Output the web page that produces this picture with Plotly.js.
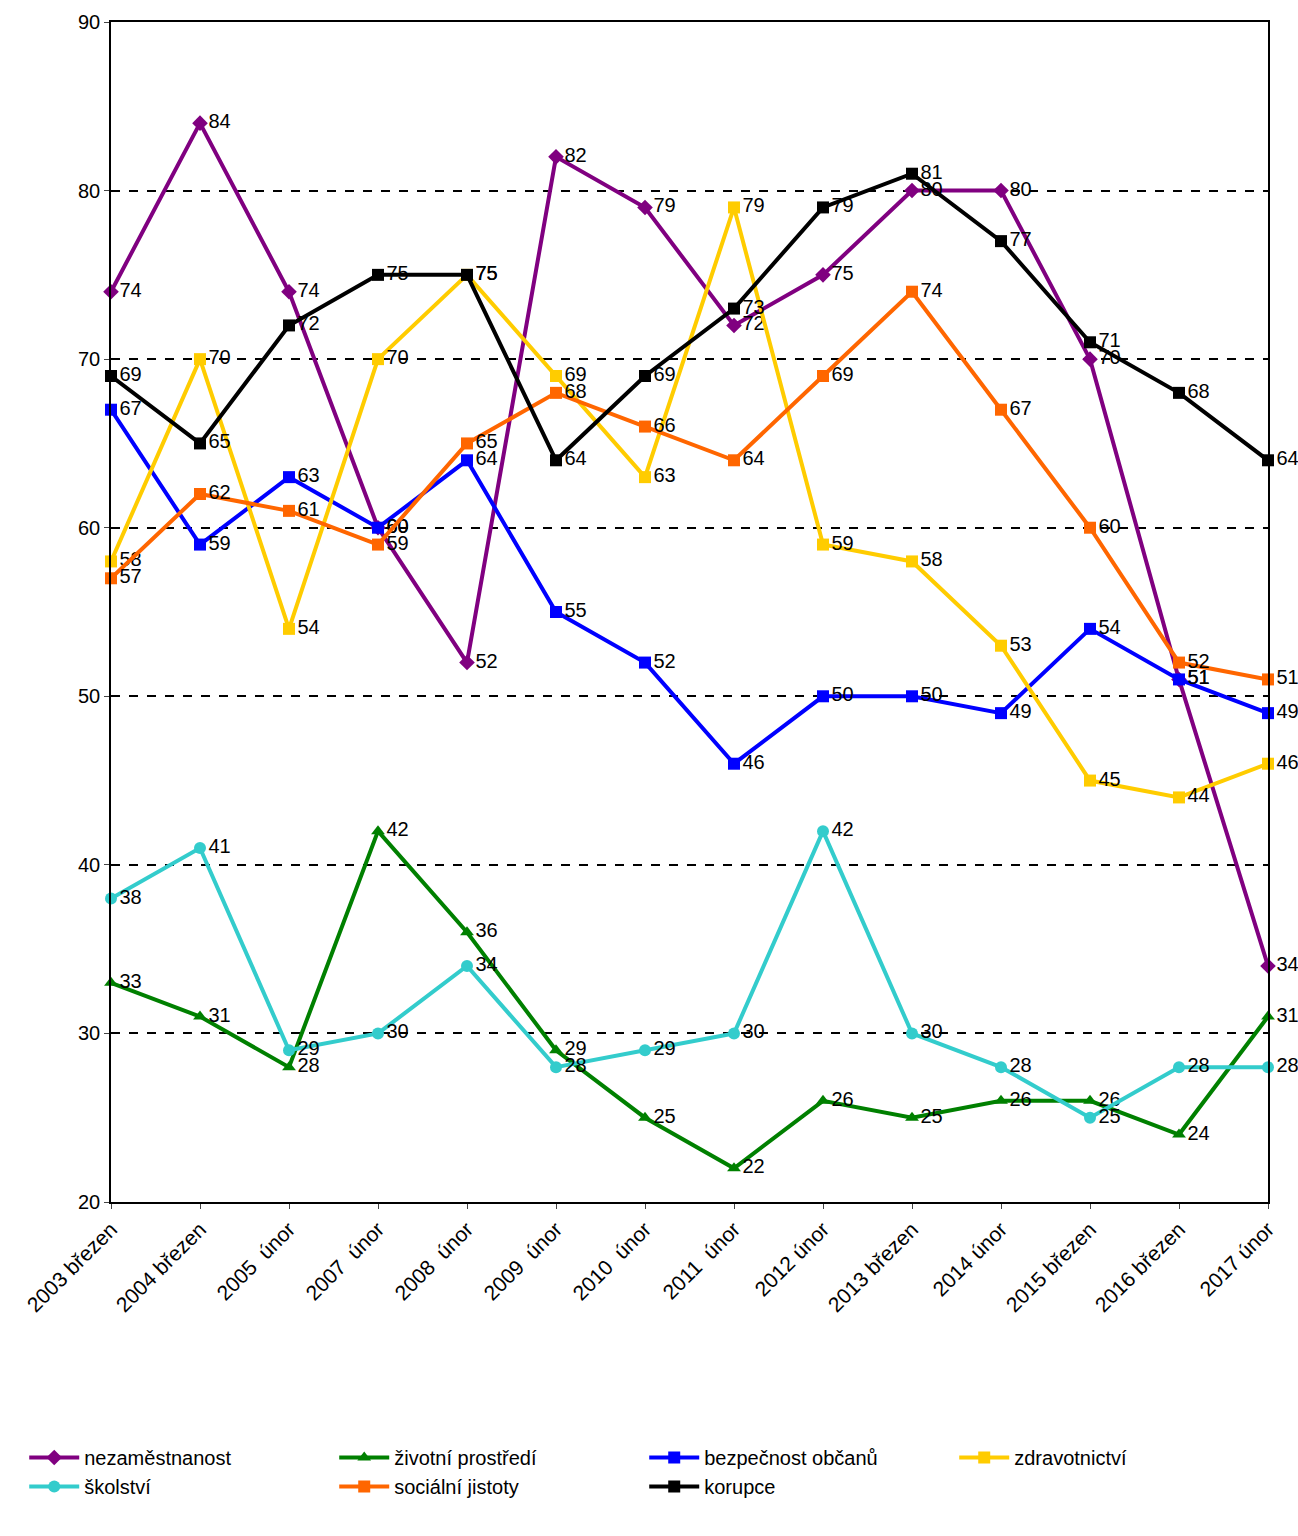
<!DOCTYPE html>
<html><head><meta charset="utf-8">
<script src="https://cdn.plot.ly/plotly-3.0.1.min.js"></script>
<style>body{margin:0}</style></head>
<body><div id="chart" style="width:1298px;height:1536px"></div>
<script>
var categories = ['2003 březen', '2004 březen', '2005  únor', '2007  únor', '2008  únor', '2009  únor', '2010  únor',
  '2011  únor', '2012 únor', '2013 březen', '2014 únor', '2015 březen', '2016 březen', '2017 únor'];
var nezamestnanost = [74, 84, 74, 60, 52, 82, 79, 72, 75, 80, 80, 70, 51, 34];
var zivotni = [33, 31, 28, 42, 36, 29, 25, 22, 26, 25, 26, 26, 24, 31];
var bezpecnost = [67, 59, 63, 60, 64, 55, 52, 46, 50, 50, 49, 54, 51, 49];
var zdravotnictvi = [58, 70, 54, 70, 75, 69, 63, 79, 59, 58, 53, 45, 44, 46];
var skolstvi = [38, 41, 29, 30, 34, 28, 29, 30, 42, 30, 28, 25, 28, 28];
var socialni = [57, 62, 61, 59, 65, 68, 66, 64, 69, 74, 67, 60, 52, 51];
var korupce = [69, 65, 72, 75, 75, 64, 69, 73, 79, 81, 77, 71, 68, 64];

function tr(name, y, color, symbol) {
  return {
    x: categories, y: y, name: name, type: 'scatter', mode: 'lines+markers+text',
    text: y.map(String), textposition: 'middle right',
    textfont: {family: 'Liberation Sans, Arial', size: 20, color: '#000'},
    line: {color: color, width: 4},
    marker: {color: color, symbol: symbol, size: 12},
    cliponaxis: false
  };
}
var data = [
  tr('nezaměstnanost', nezamestnanost, '#800080', 'diamond'),
  tr('životní prostředí', zivotni, '#008000', 'triangle-up'),
  tr('bezpečnost občanů', bezpecnost, '#0000ff', 'square'),
  tr('zdravotnictví', zdravotnictvi, '#ffcc00', 'square'),
  tr('školství', skolstvi, '#33cccc', 'circle'),
  tr('sociální jistoty', socialni, '#ff6600', 'square'),
  tr('korupce', korupce, '#000000', 'square')
];
var layout = {
  width: 1298, height: 1536,
  margin: {l: 111, r: 30, t: 22, b: 334},
  paper_bgcolor: '#fff', plot_bgcolor: '#fff',
  font: {family: 'Liberation Sans, Arial', size: 20, color: '#000'},
  showlegend: true,
  legend: {orientation: 'h', x: -0.075, xanchor: 'left', y: -0.2, yanchor: 'top',
    entrywidth: 245, entrywidthmode: 'pixels', font: {size: 20}, tracegroupgap: 10,
    itemwidth: 50},
  xaxis: {type: 'category', range: [0, 13], showgrid: false, showline: true, linecolor: '#000',
    linewidth: 1.5, mirror: true, ticks: 'outside', tickangle: -45, tickfont: {size: 21}},
  yaxis: {range: [20, 90], dtick: 10, showgrid: true, gridcolor: '#000', griddash: 'dash',
    gridwidth: 1.5, showline: true, linecolor: '#000', linewidth: 1.5, mirror: true,
    ticks: 'outside', zeroline: false, tickfont: {size: 20}}
};
Plotly.newPlot('chart', data, layout, {displayModeBar: false});
</script></body></html>
